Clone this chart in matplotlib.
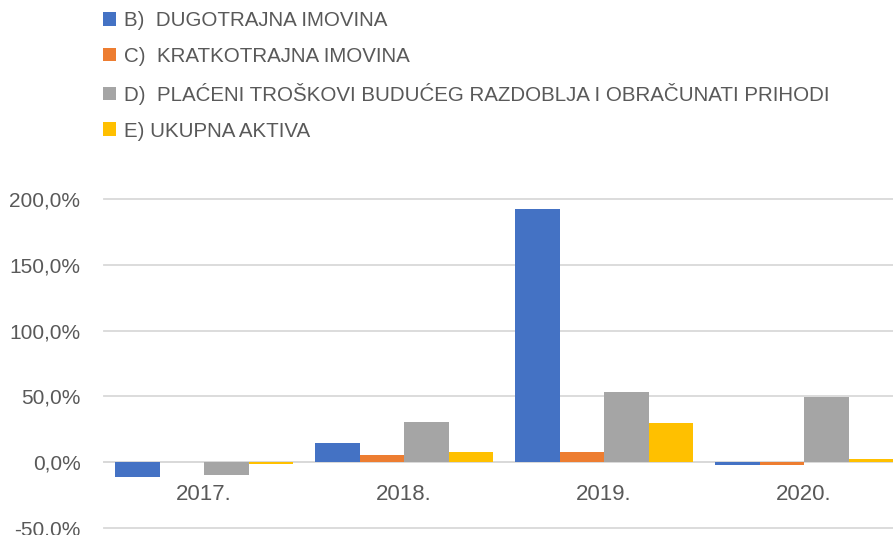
import matplotlib
matplotlib.use('Agg')
import matplotlib.pyplot as plt
import numpy as np

years = ['2017.', '2018.', '2019.', '2020.']
series_names = [
    'B)  DUGOTRAJNA IMOVINA',
    'C)  KRATKOTRAJNA IMOVINA',
    'D)  PLAĆENI TROŠKOVI BUDUĆEG RAZDOBLJA I OBRAČUNATI PRIHODI',
    'E) UKUPNA AKTIVA',
]
dugotrajna = [-11.2, 14.7, 192.4, -2.3]
kratkotrajna = [0.0, 5.1, 8.1, -2.3]
placeni = [-9.4, 30.4, 53.2, 49.7]
ukupna = [-1.5, 7.8, 29.9, 2.5]
y_ticks = [-50, 0, 50, 100, 150, 200]
y_labels = ['-50.0%', '0,0%', '50,0%', '100,0%', '150,0%', '200,0%']

colors = ['#4472C4', '#ED7D31', '#A5A5A5', '#FFC000']
text_color = '#595959'
grid_color = '#D9D9D9'

plt.rcParams['font.family'] = ['Liberation Sans', 'DejaVu Sans']

fig = plt.figure(figsize=(8.93, 5.35), dpi=100)
ax = fig.add_axes([104 / 893, 1 - 528 / 535, 800 / 893, 329 / 535])

x = np.arange(len(years))
width = 0.2225
all_series = [dugotrajna, kratkotrajna, placeni, ukupna]
handles = []
for i, (vals, col, name) in enumerate(zip(all_series, colors, series_names)):
    offset = (i - 1.5) * width
    b = ax.bar(x + offset, vals, width, color=col, label=name, zorder=3)
    handles.append(b)

ax.set_xlim(-0.5, 3.5)
ax.set_ylim(-50, 200)
ax.set_yticks(y_ticks)
ax.set_yticklabels(y_labels)
ax.set_xticks(x)
ax.set_xticklabels(years)

for t in y_ticks:
    ax.axhline(t, color=grid_color, linewidth=1.3, zorder=1, clip_on=False)

for s in ['top', 'right', 'left']:
    ax.spines[s].set_visible(False)
ax.spines['bottom'].set_position(('data', 0))
ax.spines['bottom'].set_color(grid_color)
ax.spines['bottom'].set_linewidth(1.3)

ax.tick_params(axis='y', length=0, pad=17, labelsize=15, labelcolor=text_color)
ax.tick_params(axis='x', length=0, pad=16, labelsize=16, labelcolor=text_color)

fig.legend(handles=handles, labels=series_names, loc='upper left',
           bbox_to_anchor=(103 / 893, 1 - 11 / 535), frameon=False,
           fontsize=14.8, labelcolor=text_color, handlelength=0.65,
           handleheight=0.65, handletextpad=0.35, labelspacing=0.82,
           borderaxespad=0, borderpad=0)

fig.savefig('out.png', dpi=100)
